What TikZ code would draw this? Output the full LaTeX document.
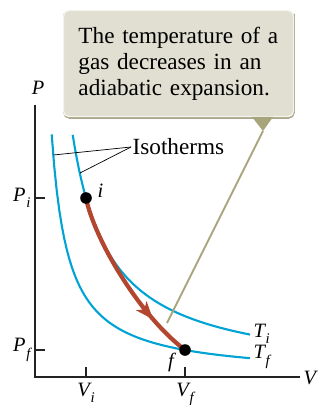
\documentclass[tikz,border=0pt]{standalone}
\usepackage{fontspec}
\setmainfont{Liberation Serif}
\usepackage{tikz}
\usetikzlibrary{arrows.meta, positioning, decorations.markings}
\definecolor{isoblue}{RGB}{0,163,212}
\definecolor{adred}{RGB}{178,70,46}
\definecolor{axdark}{RGB}{35,35,35}
\definecolor{notefill}{RGB}{224,223,209}
\definecolor{noteedge}{RGB}{245,244,236}
\definecolor{noteshade}{RGB}{170,168,140}
\definecolor{ptrolive}{RGB}{168,165,125}
\newcommand{\symb}[2]{\textit{#1}\kern0.5pt\raisebox{-0.32em}{\fontsize{10.5}{12}\selectfont\textit{#2}}}
\tikzset{
  axis/.style={axdark, line width=1.5pt},
  tick/.style={axdark, line width=1pt},
  isotherm/.style={isoblue, line width=1.5pt},
  adiabat/.style={adred, line width=3pt,
    postaction={decorate, decoration={markings,
      mark=at position 0.76 with {\arrow{Stealth[length=0.45cm, width=0.34cm, inset=0.12cm]}}}}},
  state/.style={circle, fill=black, inner sep=0pt, minimum size=0.29cm},
  lbl/.style={font=\fontsize{14.5}{16}\selectfont\itshape, inner sep=1pt},
  note/.style={rectangle, rounded corners=4pt, fill=notefill, draw=noteedge,
    line width=1pt, minimum width=5.75cm, minimum height=2.65cm,
    text width=5.0cm, align=left, font=\fontsize{16.5}{18.6}\selectfont},
  leader/.style={black, line width=0.5pt},
  pointer/.style={ptrolive, line width=1.3pt}
}
\begin{document}
\begin{tikzpicture}[x=0.025cm, y=-0.025cm]
  \useasboundingbox (0,0) rectangle (320,405);

  % axes
  \coordinate (O) at (35,377);
  \coordinate (ytop) at (35,105);
  \coordinate (xend) at (300,377);
  \draw[axis] (ytop) -- (O) -- (xend);
  \node[lbl, anchor=south] (plab) at (38,96) {P};
  \node[lbl, anchor=west] (vlab) at (302,378) {V};

  % ticks
  \coordinate (pi) at (35,198);
  \coordinate (pf) at (35,350);
  \coordinate (vi) at (86,377);
  \coordinate (vf) at (185,377);
  \draw[tick] (pi) -- ++(10,0);
  \draw[tick] (pf) -- ++(10,0);
  \draw[tick] (vi) -- ++(0,-10);
  \draw[tick] (vf) -- ++(0,-10);
  \node[lbl, left=2pt of pi] (pilab) {\symb{P}{i}};
  \node[lbl, left=2pt of pf] (pflab) {\symb{P}{f}};
  \node[lbl, below=3pt of vi] (vilab) {\symb{V}{i}};
  \node[lbl, below=3pt of vf] (vflab) {\symb{V}{f}};

  % isotherms
  \draw[isotherm] plot[domain=72.7:250, samples=80] (\x, {377-9129/(\x-35)});
  \draw[isotherm] plot[domain=51.7:250, samples=80] (\x, {377-4050/(\x-35)});
  \node[lbl, anchor=west] (tilab) at (252,334) {\symb{T}{i}};
  \node[lbl, anchor=west] (tflab) at (252,357) {\symb{T}{f}};

  % adiabatic path
  \coordinate (i) at (86,198);
  \coordinate (f) at (185,350);
  \draw[adiabat] (i) .. controls (94,238) and (138,314) .. (f);
  \node[state] (idot) at (i) {};
  \node[state] (fdot) at (f) {};
  \node[lbl, anchor=west] (ilab) at (96,191) {i};
  \node[lbl] (flab) at (171,362) {f};

  % isotherm label
  \node[anchor=west, font=\fontsize{16.5}{18}\selectfont, inner sep=1pt] (iso) at (131,147) {Isotherms};
  \coordinate (onf) at (53.5,155);
  \coordinate (oni) at (80,173);
  \draw[leader] (iso.west) -- (onf);
  \draw[leader] (iso.west) -- (oni);

  % callout
  \draw[noteshade, line width=1.2pt, rounded corners=4pt] (64,14) -- (64,118) -- (294,118) -- (294,14);
  \node[note] (box) at (178.5,63.5) {The temperature of a\\gas decreases in an\\adiabatic expansion.};
  \coordinate (pl) at (252,117);
  \coordinate (pr) at (273,117);
  \coordinate (ptr) at (263,131);
  \coordinate (tip) at (167,323);
  \fill[ptrolive] (pl) -- (pr) -- (ptr) -- cycle;
  \draw[pointer] (ptr) -- (tip);
\end{tikzpicture}
\end{document}
